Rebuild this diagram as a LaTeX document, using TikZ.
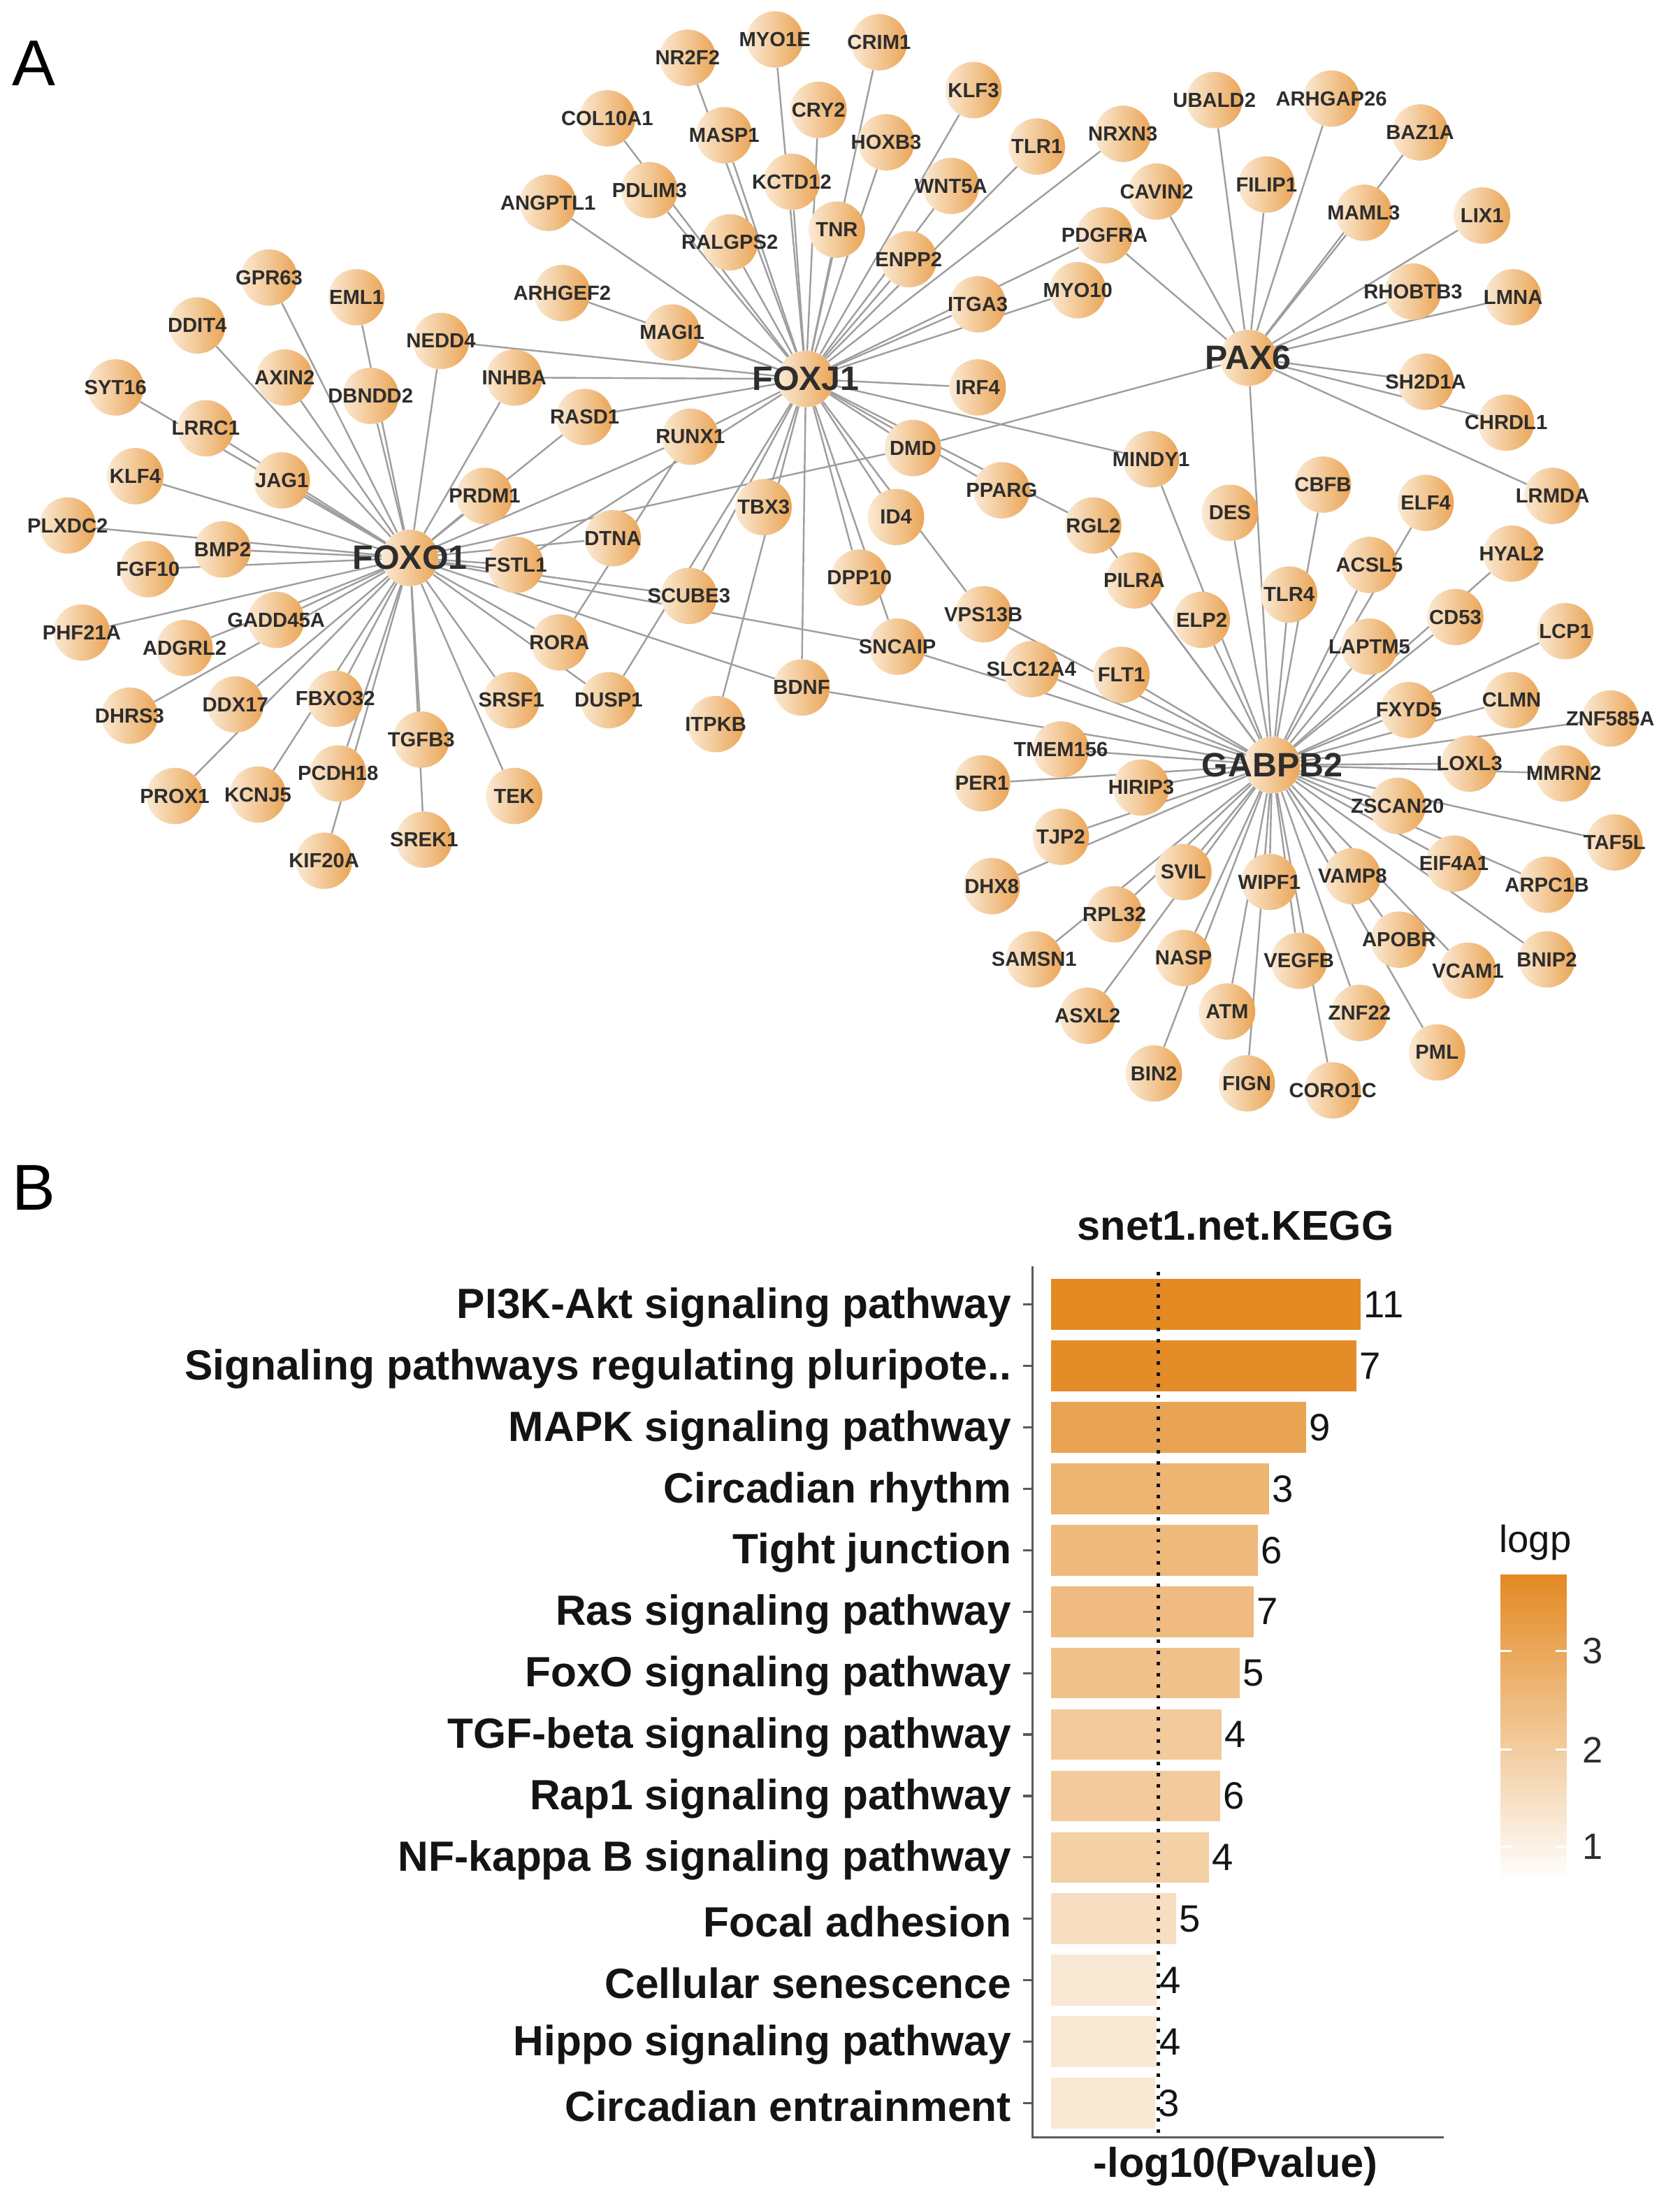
\documentclass[tikz,border=0pt]{standalone}
\usepackage{fontspec}
\setmainfont{Liberation Sans}
\pgfdeclarelayer{bglayer}
\pgfdeclarelayer{edgelayer}
\pgfsetlayers{bglayer,edgelayer,main}
\definecolor{nodeL}{RGB}{251,234,212}
\definecolor{nodeR}{RGB}{234,165,86}
\definecolor{edgec}{RGB}{158,158,158}
\definecolor{gtext}{RGB}{45,45,45}
\definecolor{barhi}{RGB}{227,138,35}
\definecolor{axisc}{RGB}{90,90,90}
\definecolor{ctext}{RGB}{20,20,20}
\tikzset{
 gene/.style={circle, minimum size=40pt, inner sep=0pt, left color=nodeL, right color=nodeR, text=gtext, font=\bfseries\fontsize{14.5}{15}\selectfont},
 hub/.style={gene, font=\bfseries\fontsize{24}{26}\selectfont},
 edge/.style={draw=edgec, line width=1.2pt},
 catlabel/.style={anchor=east, text=ctext, font=\bfseries\fontsize{30}{34}\selectfont, inner sep=0pt},
 countlabel/.style={anchor=west, text=ctext, font=\fontsize{27}{30}\selectfont, inner sep=0pt},
 axisline/.style={draw=axisc, line width=1.6pt},
 dotline/.style={draw=ctext, line width=2.4pt, dash pattern=on 2.4pt off 5.5pt},
 titlelab/.style={text=ctext, font=\bfseries\fontsize{29.5}{32}\selectfont, inner sep=0pt},
 legtitle/.style={anchor=west, text=ctext, font=\fontsize{27}{30}\selectfont, inner sep=0pt},
 leglab/.style={anchor=west, text=gtext, font=\fontsize{26}{30}\selectfont, inner sep=0pt},
 panel/.style={text=black, font=\fontsize{46}{50}\selectfont, inner sep=0pt}
}
\newcommand\genenode[3]{\node[gene] (#1) at (#2,#3) {\makebox[0pt]{#1}};}
\newcommand\hubnode[3]{\node[hub] (#1) at (#2,#3) {\makebox[0pt]{#1}};}
\begin{document}
\begin{tikzpicture}[x=1pt,y=-1pt]
\begin{pgfonlayer}{bglayer}
\fill[white] (0,0) rectangle (1192,1568);
\end{pgfonlayer}
\useasboundingbox (0,0) rectangle (1192,1568);

\node[panel] (pA) at (24,45) {A};
\node[panel] (pB) at (24,843) {B};

% ---------- FOXO1 cluster
\hubnode{FOXO1}{291}{396}
\genenode{GPR63}{191}{197}
\genenode{EML1}{253}{211}
\genenode{DDIT4}{140}{231}
\genenode{NEDD4}{313}{242}
\genenode{AXIN2}{202}{268}
\genenode{DBNDD2}{263}{281}
\genenode{INHBA}{365}{268}
\genenode{SYT16}{82}{275}
\genenode{LRRC1}{146}{304}
\genenode{KLF4}{96}{338}
\genenode{JAG1}{200}{341}
\genenode{PRDM1}{344}{352}
\genenode{PLXDC2}{48}{373}
\genenode{BMP2}{158}{390}
\genenode{FGF10}{105}{404}
\genenode{FSTL1}{366}{401}
\genenode{DTNA}{435}{382}
\genenode{PHF21A}{58}{449}
\genenode{GADD45A}{196}{440}
\genenode{ADGRL2}{131}{460}
\genenode{SCUBE3}{489}{423}
\genenode{RORA}{397}{456}
\genenode{DHRS3}{92}{508}
\genenode{DDX17}{167}{500}
\genenode{FBXO32}{238}{496}
\genenode{SRSF1}{363}{497}
\genenode{DUSP1}{432}{497}
\genenode{TGFB3}{299}{525}
\genenode{PROX1}{124}{565}
\genenode{KCNJ5}{183}{564}
\genenode{PCDH18}{240}{549}
\genenode{TEK}{365}{565}
\genenode{SREK1}{301}{596}
\genenode{KIF20A}{230}{611}
\genenode{BDNF}{569}{488}
\genenode{ITPKB}{508}{514}

% ---------- FOXJ1 cluster
\hubnode{FOXJ1}{572}{269}
\genenode{NR2F2}{488}{41}
\genenode{MYO1E}{550}{28}
\genenode{CRIM1}{624}{30}
\genenode{KLF3}{691}{64}
\genenode{COL10A1}{431}{84}
\genenode{MASP1}{514}{96}
\genenode{CRY2}{581}{78}
\genenode{HOXB3}{629}{101}
\genenode{TLR1}{736}{104}
\genenode{NRXN3}{797}{95}
\genenode{PDLIM3}{461}{135}
\genenode{KCTD12}{562}{129}
\genenode{WNT5A}{675}{132}
\genenode{ANGPTL1}{389}{144}
\genenode{RALGPS2}{518}{172}
\genenode{TNR}{594}{163}
\genenode{ENPP2}{645}{184}
\genenode{PDGFRA}{784}{167}
\genenode{ARHGEF2}{399}{208}
\genenode{MAGI1}{477}{236}
\genenode{ITGA3}{694}{216}
\genenode{MYO10}{765}{206}
\genenode{IRF4}{694}{275}
\genenode{RASD1}{415}{296}
\genenode{RUNX1}{490}{310}
\genenode{DMD}{648}{318}
\genenode{PPARG}{711}{348}
\genenode{TBX3}{542}{360}
\genenode{ID4}{636}{367}
\genenode{DPP10}{610}{410}
\genenode{VPS13B}{698}{436}
\genenode{SNCAIP}{637}{459}
\genenode{MINDY1}{817}{326}
\genenode{RGL2}{776}{373}
\genenode{PILRA}{805}{412}

% ---------- PAX6 cluster
\hubnode{PAX6}{886}{254}
\genenode{UBALD2}{862}{71}
\genenode{ARHGAP26}{945}{70}
\genenode{BAZ1A}{1008}{94}
\genenode{CAVIN2}{821}{136}
\genenode{FILIP1}{899}{131}
\genenode{MAML3}{968}{151}
\genenode{LIX1}{1052}{153}
\genenode{RHOBTB3}{1003}{207}
\genenode{LMNA}{1074}{211}
\genenode{SH2D1A}{1012}{271}
\genenode{CHRDL1}{1069}{300}
\genenode{LRMDA}{1102}{352}

% ---------- GABPB2 cluster
\hubnode{GABPB2}{903}{543}
\genenode{DES}{873}{364}
\genenode{CBFB}{939}{344}
\genenode{ELF4}{1012}{357}
\genenode{ELP2}{853}{440}
\genenode{TLR4}{915}{422}
\genenode{ACSL5}{972}{401}
\genenode{HYAL2}{1073}{393}
\genenode{CD53}{1033}{438}
\genenode{LAPTM5}{972}{459}
\genenode{LCP1}{1111}{448}
\genenode{SLC12A4}{732}{475}
\genenode{FLT1}{796}{479}
\genenode{FXYD5}{1000}{504}
\genenode{CLMN}{1073}{497}
\genenode{ZNF585A}{1143}{510}
\genenode{TMEM156}{753}{532}
\genenode{LOXL3}{1043}{542}
\genenode{MMRN2}{1110}{549}
\genenode{PER1}{697}{556}
\genenode{HIRIP3}{810}{559}
\genenode{ZSCAN20}{992}{572}
\genenode{TJP2}{753}{594}
\genenode{DHX8}{704}{629}
\genenode{TAF5L}{1146}{598}
\genenode{EIF4A1}{1032}{613}
\genenode{ARPC1B}{1098}{628}
\genenode{SVIL}{840}{619}
\genenode{WIPF1}{901}{626}
\genenode{VAMP8}{960}{622}
\genenode{RPL32}{791}{649}
\genenode{APOBR}{993}{667}
\genenode{SAMSN1}{734}{681}
\genenode{NASP}{840}{680}
\genenode{VEGFB}{922}{682}
\genenode{VCAM1}{1042}{689}
\genenode{BNIP2}{1098}{681}
\genenode{ASXL2}{772}{721}
\genenode{ATM}{871}{718}
\genenode{ZNF22}{965}{719}
\genenode{PML}{1020}{747}
\genenode{BIN2}{819}{762}
\genenode{FIGN}{885}{769}
\genenode{CORO1C}{946}{774}

% ---------- edges
\begin{pgfonlayer}{edgelayer}
\foreach \t in {GPR63,EML1,DDIT4,NEDD4,AXIN2,DBNDD2,INHBA,SYT16,LRRC1,KLF4,JAG1,PRDM1,PLXDC2,BMP2,FGF10,PHF21A,GADD45A,ADGRL2,DHRS3,DDX17,FBXO32,TGFB3,SRSF1,PROX1,KCNJ5,PCDH18,TEK,KIF20A,SREK1,FSTL1,DTNA,RORA,DUSP1,SCUBE3,SNCAIP,BDNF,RASD1,RUNX1,DMD}
  \draw[edge] (FOXO1) -- (\t);
\foreach \t in {NR2F2,MASP1,MYO1E,KCTD12,CRIM1,TNR,CRY2,HOXB3,KLF3,WNT5A,ENPP2,TLR1,NRXN3,PDGFRA,MYO10,ITGA3,IRF4,COL10A1,PDLIM3,RALGPS2,ANGPTL1,ARHGEF2,MAGI1,NEDD4,INHBA,RASD1,RUNX1,FSTL1,DMD,PPARG,RGL2,MINDY1,TBX3,ITPKB,BDNF,ID4,VPS13B,DPP10,SNCAIP,SCUBE3,DUSP1}
  \draw[edge] (FOXJ1) -- (\t);
\foreach \t in {UBALD2,ARHGAP26,BAZ1A,MAML3,CAVIN2,FILIP1,PDGFRA,LIX1,RHOBTB3,LMNA,SH2D1A,CHRDL1,LRMDA,DMD,GABPB2}
  \draw[edge] (PAX6) -- (\t);
\foreach \t in {BDNF,SNCAIP,VPS13B,SLC12A4,FLT1,TMEM156,PER1,HIRIP3,TJP2,DHX8,RPL32,SAMSN1,SVIL,ASXL2,NASP,BIN2,ATM,WIPF1,FIGN,VEGFB,CORO1C,ZNF22,VAMP8,APOBR,PML,VCAM1,EIF4A1,BNIP2,ARPC1B,ZSCAN20,TAF5L,LOXL3,MMRN2,ZNF585A,CLMN,FXYD5,LCP1,CD53,HYAL2,LAPTM5,ACSL5,ELF4,TLR4,CBFB,DES,ELP2,MINDY1,PILRA,RGL2}
  \draw[edge] (GABPB2) -- (\t);
\draw[edge] (RUNX1) -- (RORA);
\end{pgfonlayer}

% ---------- Panel B: bar chart
\node[titlelab] (ctitle) at (877,870) {snet1.net.KEGG};
\foreach \i/\r/\t/\n/\lab in {
 0/966/100/11/{PI3K-Akt signaling pathway},
 1/963/98/7/{Signaling pathways regulating pluripote..},
 2/927/78/9/{MAPK signaling pathway},
 3/901/64/3/{Circadian rhythm},
 4/893/60/6/{Tight junction},
 5/890/58/7/{Ras signaling pathway},
 6/880/53/5/{FoxO signaling pathway},
 7/867/45/4/{TGF-beta signaling pathway},
 8/866/45/6/{Rap1 signaling pathway},
 9/858/40/4/{NF-kappa B signaling pathway},
 10/835/28/5/{Focal adhesion},
 11/821/20/4/{Cellular senescence},
 12/821/20/4/{Hippo signaling pathway},
 13/820/20/3/{Circadian entrainment}}{
  \pgfmathsetmacro\yc{926+43.6*\i}
  \fill[barhi!\t!white] (746,\yc-18) rectangle (\r,\yc+18);
  \node[countlabel] (cnt\i) at (\r+2,\yc) {\n};
  \node[catlabel] (cat\i) at (718,\yc+2) {\lab};
  \draw[axisline] (726,\yc) -- (733,\yc);
}
\draw[dotline] (822,903) -- (822,1517);
\draw[axisline] (733,899) -- (733,1517) -- (1025,1517);
\node[titlelab] (xtitle) at (877,1538) {-log10(Pvalue)};

% legend
\node[legtitle] (legt) at (1064,1095) {logp};
\shade[top color=barhi, bottom color=white] (1065,1118) rectangle (1112,1335);
\foreach \v/\yy in {3/1172,2/1242,1/1311}{
  \draw[white, line width=1.5pt] (1065,\yy) -- (1073,\yy) (1104,\yy) -- (1112,\yy);
  \node[leglab] (leg\v) at (1123,\yy) {\v};
}
\end{tikzpicture}
\end{document}
